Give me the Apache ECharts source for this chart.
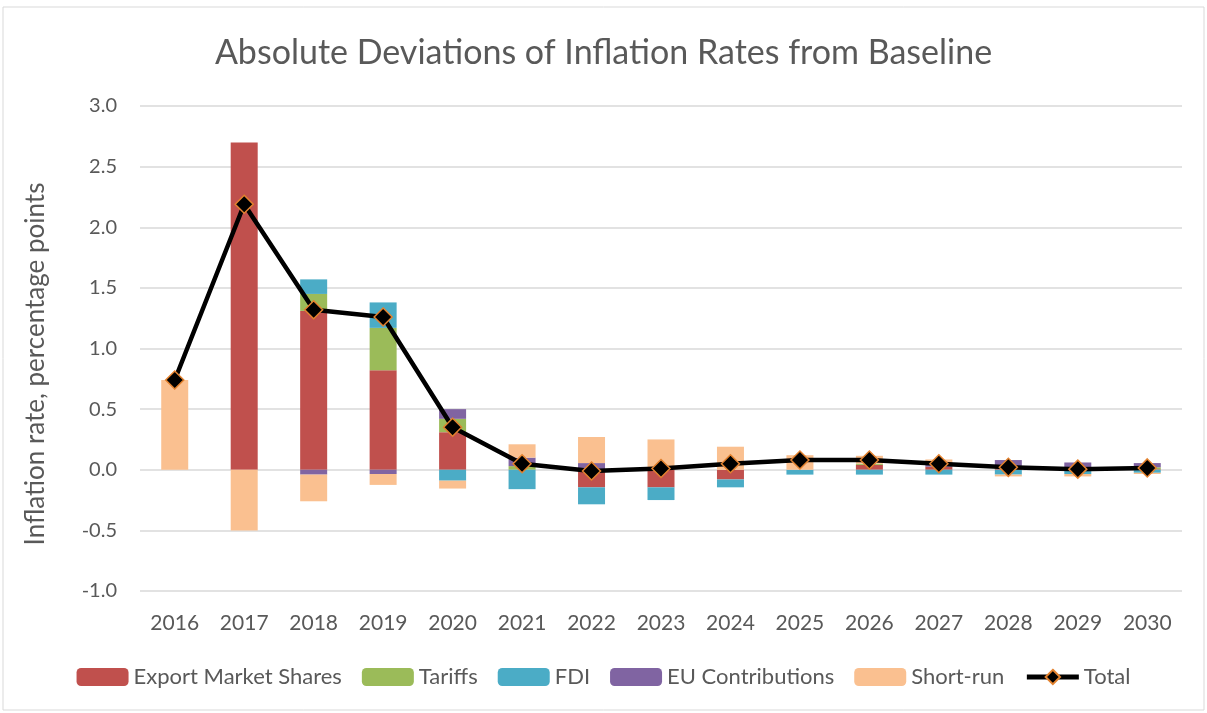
<!DOCTYPE html>
<html>
<head>
<meta charset="utf-8">
<script src="https://cdn.jsdelivr.net/npm/echarts@6/dist/echarts.min.js"></script>
<style>
  html, body { margin: 0; padding: 0; background: #fff; }
  #main { width: 1207px; height: 713px; }
</style>
</head>
<body>
<div id="main"></div>
<script>
// data
const years = ['2016', '2017', '2018', '2019', '2020', '2021', '2022', '2023', '2024', '2025', '2026', '2027', '2028', '2029', '2030'];
const exportShares = [0, 2.7, 1.31, 0.82, 0.31, 0, -0.145, -0.145, -0.08, 0, 0.04, 0.025, 0.01, 0.01, 0.005];
const tariffs = [0, 0, 0.14, 0.35, 0.11, 0.03, 0, 0, 0, 0, 0.01, 0, 0.02, 0.01, 0.015];
const fdi = [0, 0, 0.12, 0.21, -0.09, -0.16, -0.14, -0.105, -0.065, -0.04, -0.04, -0.04, -0.04, -0.035, -0.025];
const euContrib = [0, 0, -0.04, -0.035, 0.08, 0.07, 0.055, 0, 0, 0, 0, 0.03, 0.05, 0.04, 0.035];
const shortRun = [0.74, -0.5, -0.22, -0.09, -0.065, 0.11, 0.215, 0.25, 0.19, 0.12, 0.065, 0.03, -0.015, -0.02, -0.01];
const total = [0.74, 2.19, 1.32, 1.26, 0.35, 0.05, -0.01, 0.01, 0.05, 0.08, 0.08, 0.05, 0.02, 0.005, 0.015];

const chart = echarts.init(document.getElementById('main'));

function barSeries(name, data, color) {
  return {
    name: name,
    type: 'bar',
    stack: 'all',
    barWidth: 27,
    data: data,
    itemStyle: { color: color },
    emphasis: { disabled: true }
  };
}

const option = {
  animation: false,
  textStyle: { fontFamily: 'Lato', color: '#595959' },
  title: {
    text: 'Absolute Deviations of Inflation Rates from Baseline',
    left: 'center',
    top: 31,
    textStyle: { fontFamily: 'Lato', fontSize: 34, fontWeight: 'normal', color: '#595959' }
  },
  graphic: [{
    type: 'rect',
    shape: { x: 3, y: 7, width: 1201, height: 703 },
    style: { fill: 'none', stroke: '#D9D9D9', lineWidth: 1 },
    silent: true
  }, {
    // y axis title, placed like the original (a little below the plot centre)
    type: 'text',
    x: 36,
    y: 364,
    rotation: Math.PI / 2,
    style: {
      text: 'Inflation rate, percentage points',
      fontFamily: 'Lato',
      fontSize: 26,
      fill: '#595959',
      align: 'center',
      verticalAlign: 'middle'
    },
    silent: true
  }],
  legend: {
    top: 661,
    left: 'center',
    itemWidth: 52,
    itemHeight: 18,
    itemGap: 20,
    textStyle: { fontFamily: 'Lato', fontSize: 22, color: '#595959' },
    data: [
      'Export Market Shares', 'Tariffs', 'FDI', 'EU Contributions', 'Short-run',
      { name: 'Total', lineStyle: { width: 5, color: '#000' } }
    ]
  },
  grid: { left: 140, right: 25, top: 106, bottom: 122 },
  xAxis: {
    type: 'category',
    data: years,
    axisLine: { show: false, onZero: false },
    axisTick: { show: false },
    axisLabel: { fontSize: 21, color: '#595959', margin: 22 }
  },
  yAxis: {
    type: 'value',
    min: -1,
    max: 3,
    interval: 0.5,
    axisLine: { show: false },
    axisTick: { show: false },
    axisLabel: {
      fontSize: 20,
      color: '#595959',
      margin: 23,
      formatter: v => v.toFixed(1)
    },
    splitLine: { lineStyle: { color: '#D9D9D9', width: 1.5 } }
  },
  series: [
    barSeries('Export Market Shares', exportShares, '#C0504D'),
    barSeries('Tariffs', tariffs, '#9BBB59'),
    barSeries('FDI', fdi, '#4BACC6'),
    barSeries('EU Contributions', euContrib, '#8064A2'),
    barSeries('Short-run', shortRun, '#FAC090'),
    {
      name: 'Total',
      type: 'line',
      data: total,
      symbol: 'diamond',
      symbolSize: 18,
      lineStyle: { color: '#000', width: 4.5 },
      itemStyle: { color: '#000', borderColor: '#E3822F', borderWidth: 1.5 },
      emphasis: { disabled: true },
      z: 5
    }
  ]
};

chart.setOption(option);
</script>
</body>
</html>
